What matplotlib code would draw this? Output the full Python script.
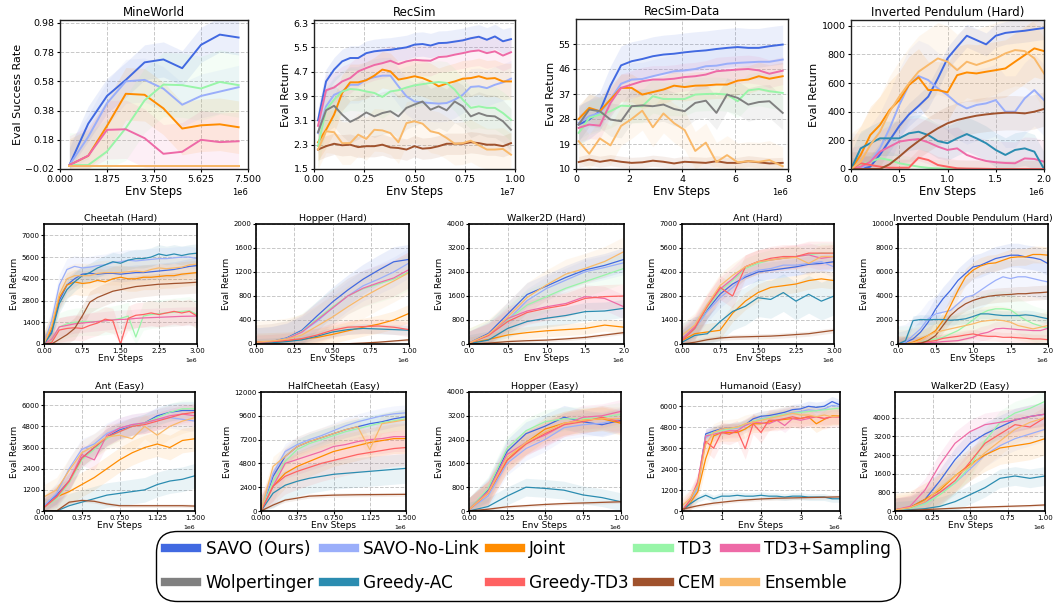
import numpy as np
import matplotlib
matplotlib.use("Agg")
import matplotlib.pyplot as plt
from matplotlib.lines import Line2D

# method keys, legend labels and colours (legend order)
ORDER = ["savo", "nolink", "joint", "td3", "td3s", "wolp", "gac", "gtd3", "cem", "ens"]
LABELS = {"savo": "SAVO (Ours)", "nolink": "SAVO-No-Link", "joint": "Joint", "td3": "TD3",
          "td3s": "TD3+Sampling", "wolp": "Wolpertinger", "gac": "Greedy-AC",
          "gtd3": "Greedy-TD3", "cem": "CEM", "ens": "Ensemble"}
COLORS = {"savo": "#4169e1", "nolink": "#9aaefa", "joint": "#ff8c00", "td3": "#98f5a8",
          "td3s": "#ee6aa7", "wolp": "#808080", "gac": "#2b8cb0", "gtd3": "#ff6262",
          "cem": "#a0522d", "ens": "#f9b96a"}

# all x values are env steps in millions

# ---------------- MineWorld
mine_x = [0.375, 1.125, 1.875, 2.625, 3.375, 4.125, 4.875, 5.625, 6.375, 7.125]
mine_y = {
    "savo": [0.007, 0.29, 0.48, 0.59, 0.71, 0.73, 0.67, 0.83, 0.90, 0.88],
    "nolink": [0.007, 0.20, 0.43, 0.58, 0.59, 0.53, 0.42, 0.48, 0.51, 0.54],
    "joint": [0.007, 0.07, 0.275, 0.495, 0.488, 0.395, 0.257, 0.279, 0.286, 0.266],
    "td3": [0.007, 0.007, 0.10, 0.26, 0.45, 0.558, 0.554, 0.531, 0.576, 0.554],
    "td3s": [0.007, 0.071, 0.248, 0.252, 0.191, 0.084, 0.098, 0.18, 0.164, 0.17],
    "cem": [0.003, 0.003, 0.003, 0.003, 0.003, 0.003, 0.003, 0.003, 0.003, 0.003],
    "ens": [0.003, 0.003, 0.003, 0.003, 0.003, 0.003, 0.003, 0.003, 0.003, 0.003],
}
mine_sd = {"savo": 0.12, "nolink": 0.15, "joint": 0.18, "td3": 0.22, "td3s": 0.2, "cem": 0.0, "ens": 0.0}

# ---------------- RecSim
recsim_x = [0.2, 0.6, 1.0, 1.4, 1.8, 2.2, 2.6, 3.0, 3.4, 3.8, 4.2, 4.6, 5.0, 5.4, 5.8,
            6.2, 6.6, 7.0, 7.4, 7.8, 8.2, 8.6, 9.0, 9.4, 9.8]
recsim_y = {
    "savo": [3.10, 4.38, 4.77, 5.04, 5.15, 5.15, 5.31, 5.37, 5.40, 5.42, 5.46, 5.50, 5.59, 5.61, 5.56,
             5.64, 5.65, 5.69, 5.73, 5.80, 5.85, 5.75, 5.86, 5.70, 5.77],
    "nolink": [2.68, 3.56, 3.94, 4.05, 4.27, 4.27, 4.44, 4.52, 4.57, 4.57, 4.22, 3.89, 3.72, 3.69, 3.67,
               3.65, 3.67, 3.78, 3.94, 4.20, 4.22, 4.16, 4.27, 4.35, 4.47],
    "joint": [2.38, 2.79, 3.29, 4.00, 4.35, 4.35, 4.42, 4.57, 4.77, 4.71, 4.44, 4.49, 4.55, 4.49, 4.38,
              4.22, 4.31, 4.38, 4.47, 4.49, 4.55, 4.47, 4.49, 4.38, 4.38],
    "td3": [2.25, 3.45, 3.78, 4.05, 4.13, 4.11, 4.05, 4.00, 3.87, 4.05, 4.09, 4.18, 4.25, 4.29, 4.33,
            4.36, 4.33, 4.11, 3.78, 3.51, 3.56, 3.51, 3.51, 3.34, 3.12],
    "td3s": [2.92, 4.09, 4.18, 4.38, 4.49, 4.71, 4.82, 4.92, 4.98, 5.06, 4.95, 5.04, 5.09, 5.07, 5.06,
             5.18, 5.20, 5.26, 5.31, 5.37, 5.40, 5.31, 5.37, 5.23, 5.34],
    "wolp": [2.71, 3.43, 3.58, 3.29, 3.05, 3.18, 3.36, 3.23, 3.34, 3.40, 3.23, 3.51, 3.62, 3.72, 3.45,
             3.56, 3.43, 3.72, 3.56, 3.23, 3.34, 3.25, 3.23, 3.07, 2.79],
    "cem": [2.14, 2.25, 2.33, 2.28, 2.30, 2.22, 2.25, 2.25, 2.30, 2.21, 2.19, 2.14, 2.25, 2.17, 2.19,
            2.25, 2.33, 2.33, 2.33, 2.38, 2.35, 2.30, 2.30, 2.25, 2.35],
    "ens": [2.14, 2.74, 2.71, 2.35, 2.35, 2.63, 2.49, 2.79, 2.77, 2.68, 2.38, 3.01, 3.07, 2.99, 2.74,
            2.68, 2.52, 2.33, 2.35, 2.43, 2.28, 2.14, 2.14, 2.16, 1.97],
}
recsim_sd = {"savo": 0.4, "nolink": 0.6, "joint": 0.6, "td3": 0.7, "td3s": 0.5, "wolp": 0.7,
             "cem": 0.35, "ens": 0.7}

# ---------------- RecSim-Data
rsd_x = [0.1, 0.5, 0.9, 1.3, 1.7, 2.1, 2.5, 2.9, 3.3, 3.7, 4.1, 4.5, 4.9, 5.3, 5.7, 6.1, 6.5, 6.9, 7.3, 7.8]
rsd_y = {
    "savo": [26, 27.8, 30.8, 40, 47.3, 48.8, 49.6, 50.6, 51.2, 51.5, 52, 52.4, 52.7, 53.2, 53.6, 53.9, 53.6, 53.6, 54.2, 54.8],
    "nolink": [26.6, 29, 30.2, 35, 40.7, 42.2, 42.4, 43.4, 44.3, 45.2, 45.5, 46, 47, 47.2, 47.9, 48.2, 48.4, 48.6, 48.6, 49.4],
    "joint": [28, 32, 30.8, 35, 39.2, 39.2, 36.8, 37.7, 38.6, 40, 39.5, 40, 40.1, 40.4, 40.4, 41.8, 42.2, 43.4, 42.5, 43.4],
    "td3": [23, 28.4, 29.6, 30.8, 32.8, 32.6, 32.6, 36.2, 35.2, 35.2, 35.2, 36.8, 37, 37.1, 36.8, 34.4, 38.3, 38.8, 38, 37.4],
    "td3s": [24.8, 26, 25.6, 33.8, 39.2, 40.4, 41.6, 42.2, 42.2, 42.5, 43.1, 43.4, 44, 45.2, 45.5, 45.8, 46, 45.5, 44.3, 45.4],
    "wolp": [26, 31.4, 30.8, 27.8, 27.2, 32.6, 32.9, 32.6, 33.2, 31.6, 30.8, 33.8, 34.6, 30.2, 36.8, 35.6, 33.2, 34.1, 34.4, 30.2],
    "cem": [12.5, 13.4, 12.6, 13.2, 12.6, 12.2, 12.4, 13, 12.6, 12, 12.6, 12.4, 12.2, 12.8, 12.2, 12.2, 12.8, 12.4, 12, 12.2],
    "ens": [20, 15.5, 21, 18.5, 25.5, 28, 31, 25, 30, 26.5, 24, 16.5, 19.5, 12.5, 15, 12.4, 12.8, 12.6, 13.2, 11],
}
rsd_sd = {"savo": 7, "nolink": 6, "joint": 5, "td3": 6, "td3s": 5, "wolp": 6, "cem": 2, "ens": 7}

# ---------------- Inverted Pendulum (Hard)
ip_x = [0, 0.1, 0.2, 0.3, 0.4, 0.5, 0.6, 0.7, 0.8, 0.9, 1.0, 1.1, 1.2, 1.3, 1.4, 1.5, 1.6, 1.7, 1.8, 1.9, 2.0]
ip_y = {
    "savo": [0, 0, 16, 100, 200, 300, 380, 440, 505, 632, 772, 853, 930, 900, 870, 930, 950, 958, 965, 975, 984],
    "nolink": [0, 0, 51, 144, 284, 447, 586, 649, 621, 563, 516, 458, 423, 447, 458, 481, 400, 400, 493, 551, 481],
    "joint": [0, 98, 237, 307, 412, 480, 586, 640, 551, 551, 535, 655, 674, 667, 679, 690, 702, 749, 795, 842, 823],
    "td3": [0, 30, 51, 75, 63, 40, 28, 16, 8, 5, 3, 2, 1, 1, 0, 0, 0, 0, 0, 0, 0],
    "td3s": [0, 16, 51, 121, 156, 191, 202, 209, 186, 156, 133, 144, 98, 74, 56, 47, 42, 40, 74, 70, 51],
    "gac": [0, 144, 180, 214, 214, 214, 249, 260, 237, 195, 180, 214, 244, 214, 180, 133, 98, 133, 144, 121, 0],
    "gtd3": [0, 40, 28, 16, 9, 9, 9, 79, 63, 28, 16, 5, 3, 2, 1, 0, 0, 0, 0, 0, 0],
    "cem": [0, 0, 0, 0, 33, 86, 144, 195, 242, 284, 319, 342, 358, 372, 381, 388, 393, 393, 388, 400, 419],
    "ens": [0, 51, 167, 260, 400, 505, 598, 679, 726, 772, 749, 690, 749, 726, 749, 772, 807, 830, 823, 772, 667],
}
ip_sd = {"savo": 80, "nolink": 250, "joint": 200, "td3": 60, "td3s": 150, "gac": 120, "gtd3": 60,
         "cem": 120, "ens": 250}

# ---------------- Cheetah (Hard)
ch_x = [0, 0.15, 0.3, 0.45, 0.6, 0.75, 0.9, 1.05, 1.2, 1.35, 1.5, 1.65, 1.8, 1.95, 2.1, 2.25, 2.4, 2.55, 2.7, 2.85, 3.0]
ch_y = {
    "savo": [0, 800, 2800, 3800, 4200, 4500, 4550, 4500, 4550, 4550, 4500, 4550, 4600, 4600, 4650, 4700, 4750, 4800, 4900, 5000, 5050],
    "nolink": [0, 1500, 3800, 4800, 5000, 4900, 4950, 5050, 5100, 5250, 5300, 5400, 5350, 5400, 5450, 5500, 5500, 5550, 5600, 5600, 5500],
    "joint": [0, 1000, 3000, 3800, 4000, 3900, 3950, 4100, 4000, 4200, 4300, 4200, 4200, 4300, 4300, 4350, 4400, 4400, 4500, 4550, 4600],
    "td3": [0, 200, 1100, 1300, 1400, 1450, 1450, 1450, 1500, 1550, 1650, 1800, 450, 1800, 1900, 1950, 2000, 2050, 2100, 2150, 1900],
    "td3s": [0, 300, 1100, 1200, 1300, 1350, 1400, 1450, 1500, 1550, 1580, 1600, 1650, 1680, 1700, 1720, 1740, 1760, 1780, 1790, 1800],
    "gac": [0, 700, 2600, 3500, 4000, 4400, 4600, 4900, 5100, 5300, 5200, 5400, 5500, 5500, 5600, 5800, 5700, 5800, 5700, 5800, 5850],
    "gtd3": [0, 100, 900, 1000, 1050, 1000, 1200, 1350, 1600, 1500, 0, 1650, 1850, 1900, 2000, 1900, 2000, 2100, 2000, 2100, 1800],
    "cem": [0, 0, 300, 600, 1000, 1800, 2700, 3000, 3200, 3400, 3500, 3600, 3700, 3750, 3800, 3850, 3870, 3900, 3920, 3950, 3980],
    "ens": [0, 1200, 3200, 4200, 4400, 4400, 4400, 4550, 4600, 4600, 4600, 4650, 4700, 4650, 4800, 4900, 4850, 4900, 4950, 5100, 5150],
}
ch_sd = {"savo": 500, "nolink": 700, "joint": 800, "td3": 900, "td3s": 600, "gac": 600, "gtd3": 800,
         "cem": 700, "ens": 800}

# ---------------- Hopper (Hard)
hoh_x = [0, 0.1, 0.2, 0.3, 0.4, 0.5, 0.6, 0.7, 0.8, 0.9, 1.0]
hoh_y = {
    "savo": [20, 40, 100, 230, 470, 700, 900, 1080, 1230, 1370, 1410],
    "nolink": [20, 40, 90, 200, 380, 600, 800, 970, 1080, 1200, 1350],
    "joint": [30, 40, 50, 80, 110, 160, 220, 280, 330, 400, 510],
    "td3": [20, 40, 90, 210, 420, 620, 800, 920, 1000, 1080, 1200],
    "td3s": [20, 40, 85, 200, 400, 600, 800, 930, 1020, 1100, 1240],
    "gac": [10, 20, 40, 70, 130, 200, 240, 260, 250, 240, 230],
    "gtd3": [30, 40, 60, 90, 150, 230, 280, 290, 300, 280, 240],
    "cem": [0, 0, 0, 0, 0, 0, 5, 15, 30, 50, 70],
    "ens": [30, 50, 80, 150, 300, 450, 620, 780, 920, 1050, 1190],
}
hoh_sd = {"savo": 250, "nolink": 250, "joint": 150, "td3": 300, "td3s": 300, "gac": 80, "gtd3": 120,
          "cem": 20, "ens": 350}

# ---------------- Walker2D (Hard)
wah_x = [0, 0.25, 0.5, 0.75, 1.0, 1.25, 1.5, 1.75, 2.0]
wah_y = {
    "savo": [30, 350, 1000, 1650, 1930, 2220, 2470, 2620, 2820],
    "nolink": [30, 300, 800, 1450, 1850, 2130, 2410, 2550, 2710],
    "joint": [30, 150, 300, 380, 440, 480, 520, 630, 560],
    "td3": [30, 300, 800, 1300, 1580, 1860, 2080, 2300, 2520],
    "td3s": [30, 300, 850, 1100, 1240, 1350, 1580, 1520, 1240],
    "gac": [10, 130, 520, 750, 860, 950, 1080, 1100, 1190],
    "gtd3": [30, 280, 750, 1050, 1190, 1300, 1520, 1580, 1600],
    "cem": [0, 30, 80, 110, 130, 170, 220, 300, 380],
    "ens": [30, 320, 900, 1550, 1970, 2330, 2520, 2750, 3080],
}
wah_sd = {"savo": 400, "nolink": 400, "joint": 200, "td3": 500, "td3s": 400, "gac": 300, "gtd3": 400,
          "cem": 60, "ens": 500}

# ---------------- Ant (Hard)
anh_x = [0, 0.25, 0.5, 0.75, 1.0, 1.25, 1.5, 1.75, 2.0, 2.25, 2.5, 2.75, 3.0]
anh_y = {
    "savo": [300, 900, 2000, 2900, 3500, 3900, 4200, 4300, 4400, 4500, 4650, 4700, 4800],
    "nolink": [200, 900, 1900, 2700, 3300, 4000, 4300, 4400, 4600, 4600, 4700, 4800, 4500],
    "joint": [200, 600, 700, 800, 1800, 2500, 3000, 3300, 3400, 3500, 3700, 3800, 3700],
    "td3": [250, 900, 2100, 3100, 3700, 4400, 4700, 4900, 5000, 5100, 5200, 5300, 5300],
    "td3s": [300, 1000, 2200, 3200, 3800, 4500, 4800, 4900, 5000, 5100, 5200, 5000, 5100],
    "gac": [100, 500, 600, 1300, 1900, 2200, 2700, 2600, 3000, 2500, 2900, 2500, 2800],
    "gtd3": [200, 900, 2200, 3300, 2800, 4500, 4800, 5000, 5100, 5100, 5300, 5300, 5300],
    "cem": [0, 100, 250, 350, 400, 420, 440, 460, 500, 550, 600, 700, 800],
    "ens": [500, 1100, 2300, 3400, 4000, 4500, 4800, 4900, 5000, 5050, 4700, 5100, 5100],
}
anh_sd = {"savo": 500, "nolink": 600, "joint": 500, "td3": 600, "td3s": 700, "gac": 1100, "gtd3": 700,
          "cem": 150, "ens": 700}

# ---------------- Inverted Double Pendulum (Hard)
idp_x = [0, 0.1, 0.2, 0.3, 0.4, 0.5, 0.6, 0.7, 0.8, 0.9, 1.0, 1.1, 1.2, 1.3, 1.4, 1.5, 1.6, 1.7, 1.8, 1.9, 2.0]
idp_y = {
    "savo": [0, 140, 420, 980, 1800, 2900, 3770, 4470, 5300, 5870, 6420, 6560, 6840, 7120, 7260, 7400, 7400, 7260, 7180, 7040, 6700],
    "nolink": [0, 150, 700, 1260, 2100, 2500, 2650, 2800, 3350, 3900, 4050, 4470, 4900, 5300, 5600, 5450, 5600, 5600, 5450, 5300, 5170],
    "joint": [0, 0, 150, 420, 700, 1100, 1950, 3200, 4470, 5590, 6150, 6500, 6700, 6760, 6980, 7200, 7260, 7260, 7460, 7460, 7400],
    "td3": [0, 0, 50, 150, 300, 420, 560, 840, 1120, 1540, 2000, 2500, 2800, 2930, 2930, 2850, 2400, 2000, 1700, 1500, 1300],
    "td3s": [0, 0, 0, 50, 100, 140, 200, 240, 280, 420, 560, 840, 980, 1260, 1310, 1260, 1200, 1170, 1120, 1120, 1310],
    "gac": [0, 280, 1950, 2040, 2020, 2040, 2040, 1980, 2020, 2100, 2290, 2510, 2510, 2430, 2370, 2370, 2370, 2430, 2370, 2230, 2100],
    "gtd3": [0, 0, 50, 120, 200, 280, 470, 560, 640, 750, 840, 700, 640, 640, 560, 560, 520, 480, 420, 420, 360],
    "cem": [0, 0, 0, 50, 280, 700, 1540, 2370, 2930, 3350, 3630, 3830, 3970, 4050, 4100, 4130, 4190, 4190, 4250, 4280, 4330],
    "ens": [0, 0, 100, 280, 700, 980, 1120, 1260, 1400, 1540, 1680, 1870, 1950, 2010, 1950, 1820, 1540, 1400, 1260, 1400, 1540],
}
idp_sd = {"savo": 1000, "nolink": 1500, "joint": 700, "td3": 1500, "td3s": 600, "gac": 400, "gtd3": 400,
          "cem": 600, "ens": 1200}

# ---------------- Ant (Easy)
ane_x = [0, 0.125, 0.25, 0.375, 0.5, 0.625, 0.75, 0.875, 1.0, 1.125, 1.25, 1.375, 1.5]
ane_y = {
    "savo": [250, 900, 1700, 3000, 3600, 4200, 4600, 4800, 5000, 5400, 5600, 5700, 5700],
    "nolink": [300, 1000, 2400, 3500, 3800, 4400, 4700, 4900, 5000, 5200, 5300, 5200, 5100],
    "joint": [200, 800, 1100, 1500, 1900, 2400, 2900, 3300, 3600, 3800, 3600, 4000, 4100],
    "td3": [200, 700, 1600, 2900, 3500, 4100, 4500, 4800, 5000, 5300, 5600, 5800, 5800],
    "td3s": [200, 800, 1700, 3200, 2900, 4300, 4700, 4900, 5000, 5200, 5400, 5500, 5400],
    "gac": [0, 0, 300, 500, 700, 900, 1000, 1100, 1200, 1500, 1700, 1800, 2000],
    "gtd3": [200, 800, 1700, 3000, 3600, 4200, 4500, 4800, 4900, 5100, 5300, 5500, 5600],
    "cem": [0, 0, 500, 600, 550, 400, 300, 300, 300, 300, 300, 300, 280],
    "ens": [800, 1200, 2300, 3300, 3700, 4200, 4300, 4100, 4800, 4300, 4800, 5100, 5300],
}
ane_sd = {"savo": 500, "nolink": 600, "joint": 700, "td3": 500, "td3s": 600, "gac": 700, "gtd3": 500,
          "cem": 100, "ens": 700}

# ---------------- HalfCheetah (Easy)
hce_x = [0, 0.125, 0.25, 0.375, 0.5, 0.625, 0.75, 0.875, 1.0, 1.125, 1.25, 1.375, 1.5]
hce_y = {
    "savo": [0, 3500, 5500, 6500, 7000, 7400, 7800, 8200, 8500, 8800, 9000, 9300, 9500],
    "nolink": [0, 3800, 6000, 6700, 7200, 7600, 8100, 8600, 9000, 9300, 9600, 9800, 9900],
    "joint": [0, 2500, 3800, 4500, 5000, 5500, 6000, 6300, 6600, 6900, 7100, 7300, 7300],
    "td3": [0, 3000, 5000, 6200, 6800, 7200, 7600, 8000, 8300, 8600, 8900, 9100, 9300],
    "td3s": [0, 2500, 4800, 5200, 5600, 6000, 6500, 6700, 7000, 7200, 7300, 7500, 7500],
    "gac": [0, 1800, 2600, 3000, 3300, 3500, 3700, 3800, 3900, 4000, 4100, 4200, 4300],
    "gtd3": [0, 2500, 3500, 4000, 4400, 4800, 5100, 5400, 5700, 5900, 6100, 6300, 6400],
    "cem": [0, 600, 1100, 1300, 1500, 1550, 1600, 1620, 1640, 1650, 1660, 1670, 1680],
    "ens": [0, 4500, 5500, 6500, 7000, 7400, 7800, 8200, 8500, 6200, 8800, 9000, 9200],
}
hce_sd = {"savo": 800, "nolink": 800, "joint": 1500, "td3": 1000, "td3s": 1500, "gac": 1500, "gtd3": 1800,
          "cem": 200, "ens": 1000}

# ---------------- Hopper (Easy)
hoe_x = [0, 0.125, 0.25, 0.375, 0.5, 0.625, 0.75, 0.875, 1.0]
hoe_y = {
    "savo": [50, 700, 2000, 2600, 2850, 3150, 3000, 2900, 3050],
    "nolink": [50, 500, 1600, 2100, 2400, 2800, 2900, 2950, 3100],
    "joint": [50, 600, 1700, 2300, 2750, 2950, 3050, 3100, 2950],
    "td3": [50, 750, 2100, 2700, 3000, 3100, 3100, 3150, 3250],
    "td3s": [50, 650, 1900, 2300, 2550, 2900, 3150, 3200, 3350],
    "gac": [0, 150, 500, 800, 760, 700, 540, 450, 310],
    "gtd3": [50, 600, 1700, 2250, 2600, 2900, 3000, 3150, 3000],
    "cem": [0, 60, 140, 180, 220, 250, 270, 290, 310],
    "ens": [50, 600, 1800, 2300, 2650, 2950, 3050, 3100, 3100],
}
hoe_sd = {"savo": 400, "nolink": 400, "joint": 400, "td3": 400, "td3s": 400, "gac": 300, "gtd3": 400,
          "cem": 50, "ens": 400}

# ---------------- Humanoid (Easy)
hum_x = [0, 0.2, 0.4, 0.6, 0.8, 1.0, 1.2, 1.4, 1.6, 1.8, 2.0, 2.2, 2.4, 2.6, 2.8, 3.0, 3.2, 3.4, 3.6, 3.8, 4.0]
hum_y = {
    "savo": [0, 530, 1480, 4420, 4580, 4710, 4750, 4800, 4940, 5280, 5430, 5470, 5560, 5660, 5810, 5850, 6000, 5940, 6000, 6270, 6080],
    "nolink": [0, 520, 1300, 4200, 4500, 4650, 4700, 4750, 4900, 5100, 5300, 5350, 5450, 5550, 5650, 5700, 5800, 5750, 5850, 6050, 6000],
    "joint": [0, 450, 1100, 3000, 4300, 4500, 4500, 4500, 4700, 5000, 5000, 5100, 5200, 5250, 5300, 5300, 5400, 5000, 5250, 5450, 5450],
    "td3": [0, 550, 1500, 4300, 4500, 4600, 4700, 4800, 4950, 5150, 5250, 5350, 5450, 5550, 5600, 5650, 5700, 5750, 5800, 5850, 5900],
    "td3s": [0, 600, 1700, 4300, 4400, 4500, 4600, 4600, 4900, 5100, 5050, 5000, 5200, 4900, 5300, 5200, 5300, 5400, 5300, 5400, 5400],
    "gac": [0, 400, 700, 900, 700, 850, 850, 900, 850, 850, 900, 850, 850, 800, 850, 850, 800, 800, 800, 700, 700],
    "gtd3": [0, 600, 1600, 4000, 3600, 4500, 4400, 4600, 3570, 5000, 4500, 5200, 5200, 5300, 5400, 5300, 5400, 5400, 5300, 5400, 5400],
    "cem": [100, 200, 300, 380, 450, 500, 550, 600, 630, 660, 690, 710, 730, 740, 750, 760, 770, 780, 790, 800, 810],
    "ens": [300, 700, 1500, 3800, 4500, 4700, 4750, 4800, 5000, 5100, 5200, 5300, 5400, 5500, 5600, 5500, 5500, 5400, 5500, 5400, 5450],
}
hum_sd = {"savo": 300, "nolink": 300, "joint": 500, "td3": 300, "td3s": 400, "gac": 200, "gtd3": 600,
          "cem": 100, "ens": 500}

# ---------------- Walker2D (Easy)
wae_x = [0, 0.1, 0.2, 0.3, 0.4, 0.5, 0.6, 0.7, 0.8, 0.9, 1.0]
wae_y = {
    "savo": [50, 150, 500, 1300, 2200, 2900, 3300, 3600, 3900, 4050, 4150],
    "nolink": [50, 100, 350, 800, 1200, 1800, 2400, 2800, 3100, 3300, 3500],
    "joint": [50, 150, 500, 900, 1500, 2000, 2400, 2700, 2800, 2900, 3100],
    "td3": [50, 100, 300, 700, 1200, 1900, 3000, 3800, 4200, 4400, 4700],
    "td3s": [50, 200, 900, 2000, 2900, 3400, 3700, 3800, 3900, 4050, 4150],
    "gac": [0, 50, 100, 200, 400, 700, 1000, 1400, 1500, 1400, 1500],
    "gtd3": [50, 150, 400, 800, 1300, 2100, 2900, 3300, 3700, 3600, 4000],
    "cem": [0, 30, 60, 90, 120, 150, 170, 190, 210, 230, 260],
    "ens": [50, 150, 400, 1000, 1500, 1900, 2500, 3000, 3500, 3800, 4000],
}
wae_sd = {"savo": 500, "nolink": 500, "joint": 700, "td3": 500, "td3s": 500, "gac": 400, "gtd3": 500,
          "cem": 50, "ens": 600}


W, H = 1054, 606
fig = plt.figure(figsize=(W / 100, H / 100), dpi=100)


def panel(box, title, ylabel, xs, ys, sds, xticks, yticks, ylim, big):
    left, top, right, bottom = box
    ax = fig.add_axes([left / W, 1 - bottom / H, (right - left) / W, (bottom - top) / H])
    lw = 1.4 if big else 0.9
    xv = np.array(xs) * 1e6
    for key in ORDER:
        if key not in ys:
            continue
        yv = np.array(ys[key], dtype=float)
        sd = sds.get(key, 0)
        if sd > 0:
            ax.fill_between(xv, np.maximum(yv - sd, ylim[0]), yv + sd,
                            color=COLORS[key], alpha=0.1, linewidth=0)
        ax.plot(xv, yv, color=COLORS[key], lw=lw)
    ax.set_xlim(0, xticks[-1] * 1e6)
    ax.set_ylim(*ylim)
    ax.set_xticks(np.array(xticks) * 1e6)
    ax.set_yticks(yticks)
    ax.grid(True, linestyle="--", color="#c8c8c8", linewidth=0.7)
    ax.set_axisbelow(True)
    for s in ax.spines.values():
        s.set_linewidth(1.0 if big else 1.2)
        s.set_color("#222222" if big else "black")
    if big:
        ax.set_title(title, fontsize=8.5, pad=3)
        ax.set_ylabel(ylabel, fontsize=8, labelpad=2)
        ax.set_xlabel("Env Steps", fontsize=8.3, labelpad=1)
        ax.tick_params(labelsize=6.8, length=2.5, pad=1.5)
        ax.xaxis.get_offset_text().set_fontsize(6)
    else:
        ax.set_title(title, fontsize=6.8, pad=2)
        ax.set_ylabel(ylabel, fontsize=6.5, labelpad=2)
        ax.set_xlabel("Env Steps", fontsize=6.5, labelpad=0)
        ax.tick_params(labelsize=5, length=2, pad=1)
        ax.xaxis.get_offset_text().set_fontsize(4.5)
    return ax


q = [0, 0.25, 0.5, 0.75, 1.0]
h = [0, 0.5, 1.0, 1.5, 2.0]
t = [0, 0.75, 1.5, 2.25, 3.0]
e = [0, 0.375, 0.75, 1.125, 1.5]

panel((60, 20, 248, 169), "MineWorld", "Eval Success Rate", mine_x, mine_y, mine_sd,
      [0, 1.875, 3.75, 5.625, 7.5], [-0.02, 0.18, 0.38, 0.58, 0.78, 0.98], (-0.02, 1.0), True)
panel((314, 20, 515, 169), "RecSim", "Eval Return", recsim_x, recsim_y, recsim_sd,
      [0, 2.5, 5.0, 7.5, 10.0], [1.5, 2.3, 3.1, 3.9, 4.7, 5.5, 6.3], (1.5, 6.4), True)
panel((576, 19, 788, 169), "RecSim-Data", "Eval Return", rsd_x, rsd_y, rsd_sd,
      [0, 2, 4, 6, 8], [10, 19, 28, 37, 46, 55], (10, 64), True)
panel((851, 20, 1044, 169), "Inverted Pendulum (Hard)", "Eval Return", ip_x, ip_y, ip_sd,
      h, [0, 200, 400, 600, 800, 1000], (0, 1040), True)

r2 = (224, 344)
panel((44, r2[0], 197, r2[1]), "Cheetah (Hard)", "Eval Return", ch_x, ch_y, ch_sd,
      t, [0, 1400, 2800, 4200, 5600, 7000], (0, 7730), False)
panel((256, r2[0], 409, r2[1]), "Hopper (Hard)", "Eval Return", hoh_x, hoh_y, hoh_sd,
      q, [0, 400, 800, 1200, 1600, 2000], (0, 2000), False)
panel((469, r2[0], 624, r2[1]), "Walker2D (Hard)", "Eval Return", wah_x, wah_y, wah_sd,
      h, [0, 800, 1600, 2400, 3200, 4000], (0, 4000), False)
panel((682, r2[0], 834, r2[1]), "Ant (Hard)", "Eval Return", anh_x, anh_y, anh_sd,
      t, [0, 1400, 2800, 4200, 5600, 7000], (0, 7000), False)
panel((898, r2[0], 1048, r2[1]), "Inverted Double Pendulum (Hard)", "Eval Return", idp_x, idp_y, idp_sd,
      h, [0, 2000, 4000, 6000, 8000, 10000], (0, 10000), False)

r3 = (392, 511)
panel((44, r3[0], 195, r3[1]), "Ant (Easy)", "Eval Return", ane_x, ane_y, ane_sd,
      e, [0, 1200, 2400, 3600, 4800, 6000], (0, 6750), False)
panel((261, r3[0], 406, r3[1]), "HalfCheetah (Easy)", "Eval Return", hce_x, hce_y, hce_sd,
      e, [0, 2400, 4800, 7200, 9600, 12000], (0, 12000), False)
panel((469, r3[0], 621, r3[1]), "Hopper (Easy)", "Eval Return", hoe_x, hoe_y, hoe_sd,
      q, [0, 800, 1600, 2400, 3200, 4000], (0, 4000), False)
panel((682, r3[0], 840, r3[1]), "Humanoid (Easy)", "Eval Return", hum_x, hum_y, hum_sd,
      [0, 1, 2, 3, 4], [0, 1200, 2400, 3600, 4800, 6000], (0, 6820), False)
panel((895, r3[0], 1045, r3[1]), "Walker2D (Easy)", "Eval Return", wae_x, wae_y, wae_sd,
      q, [0, 800, 1600, 2400, 3200, 4000], (0, 5100), False)

# legend fills column by column, so interleave the two rows
row1, row2 = ORDER[:5], ORDER[5:]
leg_keys = [k for pair in zip(row1, row2) for k in pair]
handles = [Line2D([0], [0], color=COLORS[k], lw=6) for k in leg_keys]
leg = fig.legend(handles, [LABELS[k] for k in leg_keys], loc="center", ncol=5,
                 bbox_to_anchor=(528 / W, 1 - 566 / H), fontsize=12.2,
                 handlelength=1.9, handletextpad=0.5, columnspacing=0.5,
                 labelspacing=0.95, borderpad=0.5, frameon=True, fancybox=True)
frame = leg.get_frame()
frame.set_edgecolor("black")
frame.set_linewidth(1.0)
frame.set_alpha(1)
frame.set_boxstyle("round,pad=0,rounding_size=1.2")

fig.savefig("out.png", dpi=100)
